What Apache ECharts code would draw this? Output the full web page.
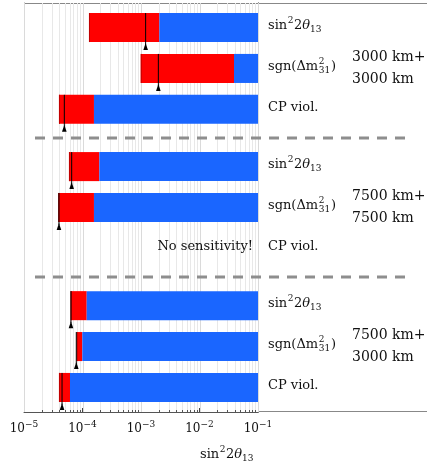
<!DOCTYPE html>
<html>
<head>
<meta charset="utf-8">
<script src="https://cdn.jsdelivr.net/npm/echarts@6/dist/echarts.min.js"></script>
<style>html,body{margin:0;padding:0;background:#fff;}#c{width:427px;height:466px;}</style>
</head>
<body>
<div id="c"></div>
<script>
// ---------- data ----------
const xMin = 1e-5, xMax = 1e-1;
const majorTicks = [1e-5, 1e-4, 1e-3, 1e-2, 1e-1];
const decades = [1e-5, 1e-4, 1e-3, 1e-2];
const minorMultipliers = [2, 3, 4, 5, 6, 7, 8, 9];
const rowPos = [0.6, 1.6, 2.6, 4.0, 5.0, 6.0, 7.4, 8.4, 9.4];
const rowKind = ['sin', 'sgn', 'cp', 'sin', 'sgn', 'cp', 'sin', 'sgn', 'cp'];
const redStart  = [1.29e-4, 9.9e-4, 3.96e-5, 5.87e-5, 3.86e-5, null, 6.28e-5, 7.96e-5, 3.96e-5];
const blueStart = [2.06e-3, 3.89e-2, 1.57e-4, 1.94e-4, 1.57e-4, null, 1.18e-4, 9.93e-5, 6.11e-5];
const markerVal = [1.20e-3, 1.98e-3, 4.89e-5, 6.53e-5, 3.96e-5, null, 6.35e-5, 7.83e-5, 4.47e-5];
const separatorPos = [3.3, 6.7];
const groupLabels = [['3000 km+', '3000 km'], ['7500 km+', '7500 km'], ['7500 km+', '3000 km']];
const groupRow = [1, 4, 7];
const noSensitivityRow = 5;
const noSensitivityText = 'No sensitivity!';
const labelSpecs = {
  sin: [{t: 'sin', k: 'n'}, {t: '2', k: 'sup'}, {t: '2', k: 'n'}, {t: 'θ', k: 'i'}, {t: '13', k: 'sub'}],
  sgn: [{t: 'sgn(Δm', k: 'n'}, {t: '2', b: '31', k: 'stack'}, {t: ')', k: 'n'}],
  cp:  [{t: 'CP viol.', k: 'n'}]
};
const axisTitleSpec = labelSpecs.sin;

// ---------- style ----------
const FAM = 'DejaVu Serif';
const RED = '#ff0000', BLUE = '#1a66ff';
const barThickness = 0.71;

const mctx = document.createElement('canvas').getContext('2d');
function textW(t, size, italic) {
  mctx.font = (italic ? 'italic ' : '') + size + 'px "' + FAM + '"';
  return mctx.measureText(t).width;
}
function txt(t, x, y, size, italic) {
  return {type: 'text', x: x, y: y, z2: 20,
    style: {text: t, fontSize: size, fontFamily: FAM, fontStyle: italic ? 'italic' : 'normal',
      fill: '#111', align: 'left', verticalAlign: 'middle'}};
}
function mathText(spec, x0, y0, size) {
  const small = Math.round(size * 0.7);
  const out = []; let x = x0;
  spec.forEach(function (p) {
    if (p.k === 'n' || p.k === 'i') {
      out.push(txt(p.t, x, y0, size, p.k === 'i')); x += textW(p.t, size, p.k === 'i');
    } else if (p.k === 'sup') {
      out.push(txt(p.t, x + 0.5, y0 - size * 0.38, small)); x += textW(p.t, small) + 1;
    } else if (p.k === 'sub') {
      out.push(txt(p.t, x, y0 + size * 0.3, small)); x += textW(p.t, small);
    } else if (p.k === 'stack') {
      out.push(txt(p.t, x + 0.5, y0 - size * 0.38, small));
      out.push(txt(p.b, x + 0.5, y0 + size * 0.3, small));
      x += Math.max(textW(p.t, small), textW(p.b, small)) + 1.5;
    }
  });
  return out;
}

// grid line values (tick positions)
const gridData = [];
majorTicks.forEach(function (v) { gridData.push([v, 1]); });
decades.forEach(function (d) { minorMultipliers.forEach(function (m) { gridData.push([d * m, 0]); }); });

const barData = [];
rowPos.forEach(function (y, i) {
  if (redStart[i] !== null) barData.push([redStart[i], blueStart[i], markerVal[i], y]);
});
const labelData = rowPos.map(function (y, i) { return [i, y]; });

const chart = echarts.init(document.getElementById('c'), null, {renderer: 'canvas'});
chart.setOption({
  animation: false,
  backgroundColor: '#fff',
  grid: {left: 24, right: 169, top: 3, bottom: 54, containLabel: false, outerBoundsMode: 'none'},
  xAxis: {
    type: 'log', logBase: 10, min: xMin, max: xMax, position: 'bottom',
    axisLine: {show: true, onZero: false, lineStyle: {color: '#555', width: 1}},
    axisTick: {show: true, inside: true, length: 4, lineStyle: {color: '#444'}},
    splitLine: {show: false},
    axisLabel: {
      show: true, margin: 8, showMinLabel: true, showMaxLabel: true,
      formatter: function (v) {
        const e = Math.round(Math.log10(v));
        return '{b|10}{s|−' + (-e) + '}';
      },
      rich: {
        b: {fontFamily: FAM, fontSize: 12, color: '#111', lineHeight: 18, verticalAlign: 'middle'},
        s: {fontFamily: FAM, fontSize: 9, color: '#111', lineHeight: 6, verticalAlign: 'top'}
      }
    }
  },
  yAxis: [
    {type: 'value', min: 0, max: 10, inverse: true, position: 'left',
     axisLine: {show: true, onZero: false, lineStyle: {color: '#888'}}, axisTick: {show: false},
     axisLabel: {show: false}, splitLine: {show: false}},
    {type: 'value', min: 0, max: 10, inverse: true, position: 'right',
     axisLine: {show: true, onZero: false, lineStyle: {color: '#111'}}, axisTick: {show: false},
     axisLabel: {show: false}, splitLine: {show: false}}
  ],
  graphic: [
    {type: 'line', shape: {x1: 24, y1: 3.5, x2: 427, y2: 3.5}, style: {stroke: '#888', lineWidth: 1}, z: 0},
    {type: 'line', shape: {x1: 258, y1: 411.5, x2: 427, y2: 411.5}, style: {stroke: '#888', lineWidth: 1}, z: 0},
    {type: 'group', children: mathText(axisTitleSpec, 200, 455, 13)}
  ],
  series: [
    { // gridlines + minor ticks
      type: 'custom', z: 1, silent: true, clip: false,
      data: gridData,
      renderItem: function (params, api) {
        const v = api.value(0), major = api.value(1);
        const p = api.coord([v, 0]), q = api.coord([v, 10]);
        const x = Math.round(p[0]) + 0.5;
        const children = [{type: 'line', shape: {x1: x, y1: p[1], x2: x, y2: q[1]},
          style: {stroke: major ? '#dadada' : '#e8e8e8', lineWidth: 1}}];
        if (!major) children.push({type: 'line', shape: {x1: x, y1: q[1], x2: x, y2: q[1] - 2},
          style: {stroke: '#555', lineWidth: 1}});
        return {type: 'group', children: children};
      }
    },
    { // separators
      type: 'custom', z: 2, silent: true, clip: false,
      data: separatorPos.map(function (s) { return [s]; }),
      renderItem: function (params, api) {
        const y = api.coord([xMin, api.value(0)])[1];
        const x0 = api.coord([xMin, 0])[0] + 11;
        const x1 = api.coord([xMax, 0])[0] + 154;
        return {type: 'line', shape: {x1: x0, y1: y, x2: x1, y2: y},
          style: {stroke: '#8e8e8e', lineWidth: 3, lineDash: [10, 8]}};
      }
    },
    { // bars + markers
      type: 'custom', z: 3, silent: true, clip: false,
      data: barData,
      renderItem: function (params, api) {
        const y = api.value(3);
        const r = api.coord([api.value(0), y]);
        const b = api.coord([api.value(1), y]);
        const e = api.coord([xMax, y]);
        const m = api.coord([api.value(2), y]);
        const h = Math.abs(api.size([0, barThickness])[1]);
        const top = r[1] - h / 2, bot = r[1] + h / 2;
        return {type: 'group', children: [
          {type: 'rect', shape: {x: r[0], y: top, width: b[0] - r[0], height: h}, style: {fill: RED}},
          {type: 'line', shape: {x1: r[0] + 0.5, y1: top, x2: r[0] + 0.5, y2: bot}, style: {stroke: '#c00000', lineWidth: 1}},
          {type: 'rect', shape: {x: b[0], y: top, width: e[0] - b[0], height: h}, style: {fill: BLUE}},
          {type: 'line', shape: {x1: m[0], y1: top, x2: m[0], y2: bot + 3}, style: {stroke: '#000', lineWidth: 1}},
          {type: 'polygon', shape: {points: [[m[0], bot + 1], [m[0] - 2.3, bot + 8], [m[0] + 2.3, bot + 8]]}, style: {fill: '#000'}}
        ]};
      }
    },
    { // right-side labels
      type: 'custom', z: 4, silent: true, clip: false,
      data: labelData,
      renderItem: function (params, api) {
        const i = api.value(0), y = api.value(1);
        const p = api.coord([xMax, y]);
        let children = mathText(labelSpecs[rowKind[i]], p[0] + 10, p[1] - 2, 13);
        const g = groupRow.indexOf(i);
        if (g >= 0) {
          children.push({type: 'text', x: p[0] + 94, y: p[1], z2: 20,
            style: {text: groupLabels[g].join('\n'), fontSize: 14, fontFamily: FAM, fill: '#111',
              lineHeight: 22, align: 'left', verticalAlign: 'middle'}});
        }
        if (i === noSensitivityRow) {
          children.push({type: 'text', x: p[0] - 5, y: p[1] - 2, z2: 20,
            style: {text: noSensitivityText, fontSize: 13, fontFamily: FAM, fill: '#111',
              align: 'right', verticalAlign: 'middle'}});
        }
        return {type: 'group', children: children};
      }
    }
  ]
});
</script>
</body>
</html>
